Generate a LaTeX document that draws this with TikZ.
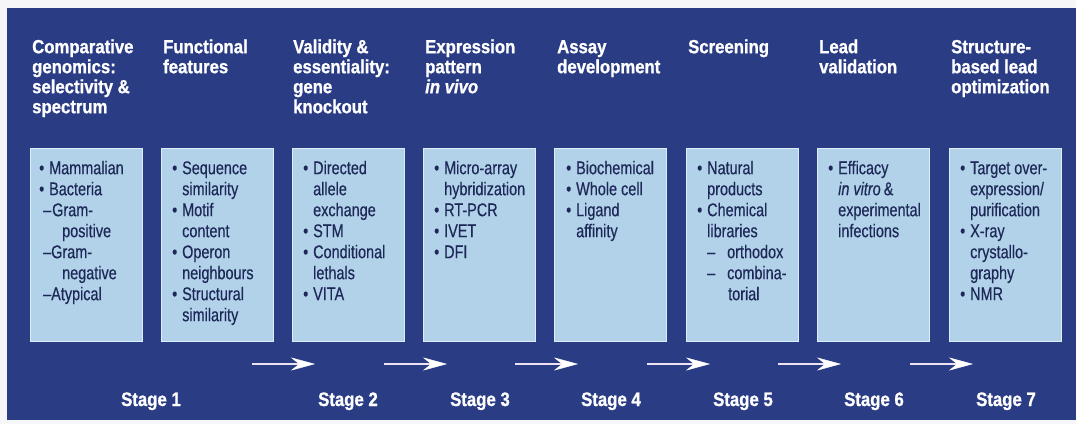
\documentclass[tikz,border=0pt]{standalone}
\usepackage{fontspec}
\setmainfont{Liberation Sans}
\newfontfamily\headfont[FakeStretch=0.88,FakeBold=1.0]{Liberation Sans}
\newfontfamily\itemfont[FakeStretch=0.78,FakeBold=0.4]{Liberation Sans}
\newfontfamily\stagefont[FakeStretch=0.86,FakeBold=1.0]{Liberation Sans}
\usetikzlibrary{arrows.meta,calc}

\definecolor{pagebg}{RGB}{246,246,248}
\definecolor{panelblue}{RGB}{42,60,132}
\definecolor{boxfill}{RGB}{178,210,234}
\definecolor{boxedge}{RGB}{222,236,248}
\definecolor{itemink}{RGB}{30,40,88}
\definecolor{shaftcol}{RGB}{236,226,242}

% list helpers: bullet column and hanging indent
\newcommand\bu{\makebox[10pt][l]{•}}
\newcommand\hang{\hspace*{10pt}}

\tikzset{
  headtext/.style={anchor=north west, inner sep=0pt, align=left, text=white,
    font=\headfont\bfseries\fontsize{19}{20}\selectfont},
  itembox/.style={anchor=north west, draw=boxedge, fill=boxfill, line width=1pt,
    minimum width=112pt, minimum height=193pt, inner sep=0pt},
  itemtext/.style={anchor=north west, inner sep=0pt, align=left, text=itemink,
    font=\itemfont\fontsize{18.5}{21}\selectfont},
  stagetext/.style={anchor=base, inner sep=0pt, text=white,
    font=\stagefont\bfseries\fontsize{19.5}{22}\selectfont},
  flowarrow/.style={draw=shaftcol, line width=1.5pt,
    -{Stealth[length=24pt,width=13pt,inset=8pt,line width=0.4pt,white]}}
}

\begin{document}
\begin{tikzpicture}[x=1pt,y=-1pt]
\useasboundingbox (0,0) rectangle (1076,424);
\fill[pagebg] (0,0) rectangle (1076,424);
\fill[panelblue] (7,8) rectangle (1076,420);

% column headings
\node[headtext] (h1) at (32,39) {\strut Comparative\\genomics:\\selectivity \&\\spectrum};
\node[headtext] (h2) at (163,39) {\strut Functional\\features};
\node[headtext] (h3) at (293,39) {\strut Validity \&\\essentiality:\\gene\\knockout};
\node[headtext] (h4) at (425,39) {\strut Expression\\pattern\\\textit{in vivo}};
\node[headtext] (h5) at (557,39) {\strut Assay\\development};
\node[headtext] (h6) at (688,39) {\strut Screening};
\node[headtext] (h7) at (819,39) {\strut Lead\\validation};
\node[headtext] (h8) at (951,39) {\strut Structure-\\based lead\\optimization};

% light boxes
\node[itembox] (b1) at (30,148) {};
\node[itembox] (b2) at (161,148) {};
\node[itembox] (b3) at (292,148) {};
\node[itembox] (b4) at (423,148) {};
\node[itembox] (b5) at (554,148) {};
\node[itembox] (b6) at (686,148) {};
\node[itembox] (b7) at (817,148) {};
\node[itembox] (b8) at (949,148) {};

% box contents
\node[itemtext] (t1) at ([shift={(9,11.3)}]b1.north west)
  {\strut\bu Mammalian\\ \bu Bacteria\\
   \hspace*{4pt}–\hspace{1pt}Gram-\\ \hspace*{23pt}positive\\
   \hspace*{4pt}–Gram-\\ \hspace*{23pt}negative\\
   \hspace*{4pt}–Atypical};
\node[itemtext] (t2) at ([shift={(11,11.3)}]b2.north west)
  {\strut\bu Sequence\\ \hang similarity\\ \bu Motif\\ \hang content\\
   \bu Operon\\ \hang neighbours\\ \bu Structural\\ \hang similarity};
\node[itemtext] (t3) at ([shift={(11,11.3)}]b3.north west)
  {\strut\bu Directed\\ \hang allele\\ \hang exchange\\ \bu STM\\
   \bu Conditional\\ \hang lethals\\ \bu VITA};
\node[itemtext] (t4) at ([shift={(11,11.3)}]b4.north west)
  {\strut\bu Micro-array\\ \hang hybridization\\ \bu RT-PCR\\ \bu IVET\\ \bu DFI};
\node[itemtext] (t5) at ([shift={(12,11.3)}]b5.north west)
  {\strut\bu Biochemical\\ \bu Whole cell\\ \bu Ligand\\ \hang affinity};
\node[itemtext] (t6) at ([shift={(11,11.3)}]b6.north west)
  {\strut\bu Natural\\ \hang products\\ \bu Chemical\\ \hang libraries\\
   \hang\makebox[20pt][l]{–}orthodox\\ \hang\makebox[20pt][l]{–}combina-\\
   \hspace*{31pt}torial};
\node[itemtext] (t7) at ([shift={(11,11.3)}]b7.north west)
  {\strut\bu Efficacy\\ \hang\textit{in vitro}\,\&\\ \hang experimental\\ \hang infections};
\node[itemtext] (t8) at ([shift={(11,11.3)}]b8.north west)
  {\strut\bu Target over-\\ \hang expression/\\ \hang purification\\
   \bu X-ray\\ \hang crystallo-\\ \hang graphy\\ \bu NMR};

% stage labels
\node[stagetext] (s1) at (151,406) {Stage 1};
\node[stagetext] (s2) at (348,406) {Stage 2};
\node[stagetext] (s3) at (480,406) {Stage 3};
\node[stagetext] (s4) at (611,406) {Stage 4};
\node[stagetext] (s5) at (743,406) {Stage 5};
\node[stagetext] (s6) at (874,406) {Stage 6};
\node[stagetext] (s7) at (1006,406) {Stage 7};

% arrows leading into stages 2 to 7
\foreach \k/\x in {1/348,2/480,3/611,4/743,5/874,6/1006}{
  \coordinate (a\k s) at (\x-96,364);
  \coordinate (a\k e) at (\x-33,364);
  \draw[flowarrow] (a\k s) -- (a\k e);
}
\end{tikzpicture}
\end{document}
